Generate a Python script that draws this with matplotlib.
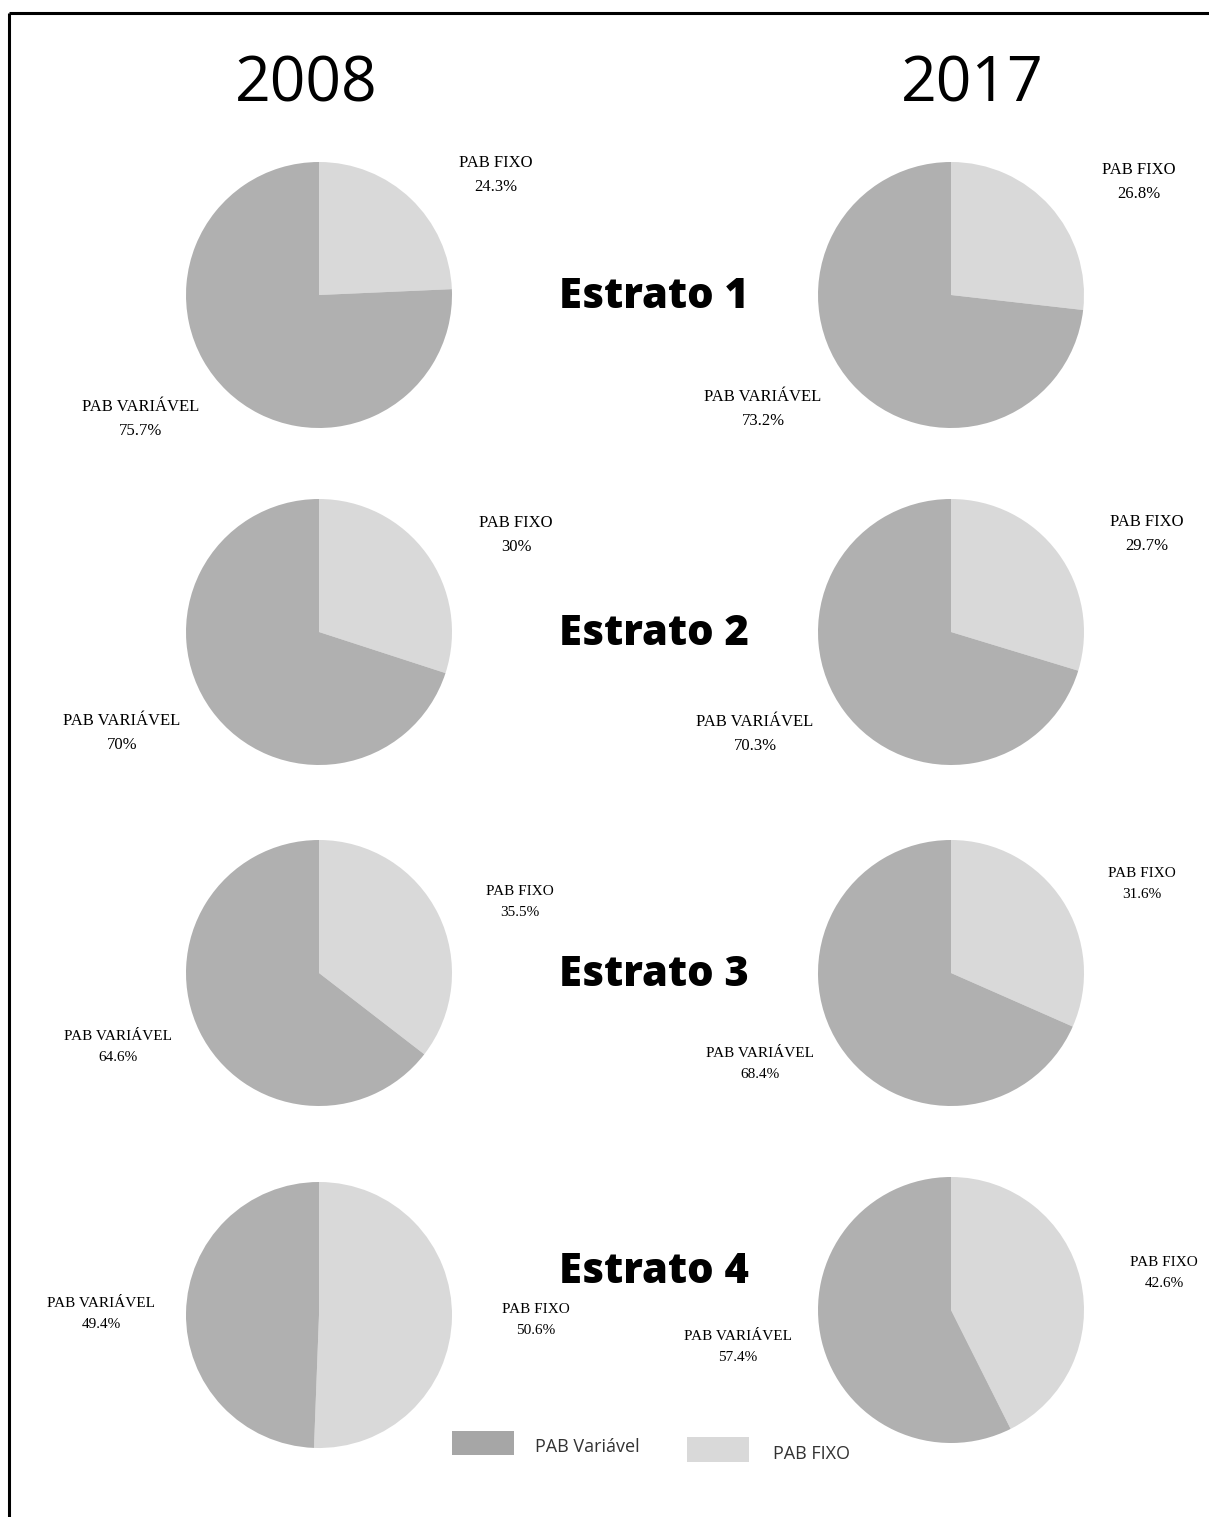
import matplotlib.pyplot as plt
from matplotlib.patches import Rectangle

W, H = 1209, 1517

years = ['2008', '2017']
strata = ['Estrato 1', 'Estrato 2', 'Estrato 3', 'Estrato 4']

# share of PAB fixo / PAB variavel, per stratum, per year
fixo_2008 = [24.3, 30, 35.5, 50.6]
variavel_2008 = [75.7, 70, 64.6, 49.4]
fixo_2017 = [26.8, 29.7, 31.6, 42.6]
variavel_2017 = [73.2, 70.3, 68.4, 57.4]

legend_labels = ['PAB Variável', 'PAB FIXO']

c_var = '#b0b0b0'
c_fixo = '#d9d9d9'
serif = 'Liberation Serif'

# pie centres (px) and label positions (px) for each year column
centres = {
    '2008': [(319, 295), (319, 632), (319, 973), (319, 1315)],
    '2017': [(951, 295), (951, 632), (951, 973), (951, 1310)],
}
fixo_pos = {
    '2008': [(496, 175), (516, 535), (520, 902), (536, 1320)],
    '2017': [(1139, 182), (1147, 534), (1142, 884), (1164, 1273)],
}
var_pos = {
    '2008': [(141, 419), (122, 733), (118, 1047), (101, 1314)],
    '2017': [(763, 409), (755, 734), (760, 1064), (738, 1347)],
}
label_size = [12, 12, 11, 11]
label_spacing = [1.6, 1.6, 1.75, 1.75]
R = 133

fig = plt.figure(figsize=(W / 100, H / 100), dpi=100)
bg = fig.add_axes([0, 0, 1, 1])
bg.set_xlim(0, W)
bg.set_ylim(H, 0)
bg.axis('off')

# frame: top and left edges only
bg.plot([9, W], [13, 13], color='black', lw=2.2, solid_capstyle='butt')
bg.plot([9, 9], [13, H], color='black', lw=2.2, solid_capstyle='butt')

data = {'2008': (fixo_2008, variavel_2008), '2017': (fixo_2017, variavel_2017)}

for year, tx in zip(years, [306, 972]):
    bg.text(tx, 85, year, fontsize=45, family='Open Sans',
            ha='center', va='center')
    fixo, var = data[year]
    for i in range(len(strata)):
        cx, cy = centres[year][i]
        ax = fig.add_axes([(cx - R) / W, 1 - (cy + R) / H, 2 * R / W, 2 * R / H])
        ax.pie([fixo[i], var[i]], colors=[c_fixo, c_var], startangle=90,
               counterclock=False, radius=1, wedgeprops=dict(linewidth=0))
        ax.set_xlim(-1, 1)
        ax.set_ylim(-1, 1)
        ax.set_aspect('equal')
        ax.axis('off')
        fx, fy = fixo_pos[year][i]
        bg.text(fx, fy, f'PAB FIXO\n{fixo[i]:g}%', family=serif,
                fontsize=label_size[i], ha='center', va='center',
                linespacing=label_spacing[i])
        vx, vy = var_pos[year][i]
        bg.text(vx, vy, f'PAB VARIÁVEL\n{var[i]:g}%', family=serif,
                fontsize=label_size[i], ha='center', va='center',
                linespacing=label_spacing[i])

for i, name in enumerate(strata):
    bg.text(654, [297, 634, 975, 1272][i], name, fontsize=30, family='Open Sans',
            fontweight='heavy', ha='center', va='center')

# legend
bg.add_patch(Rectangle((452, 1431), 62, 24, color='#a6a6a6', lw=0))
bg.text(535, 1447, legend_labels[0], fontsize=13, family='Open Sans',
        color='#333333', va='center')
bg.add_patch(Rectangle((687, 1437), 62, 25, color=c_fixo, lw=0))
bg.text(773, 1454, legend_labels[1], fontsize=13, family='Open Sans',
        color='#333333', va='center')

fig.savefig('out.png', dpi=100)
